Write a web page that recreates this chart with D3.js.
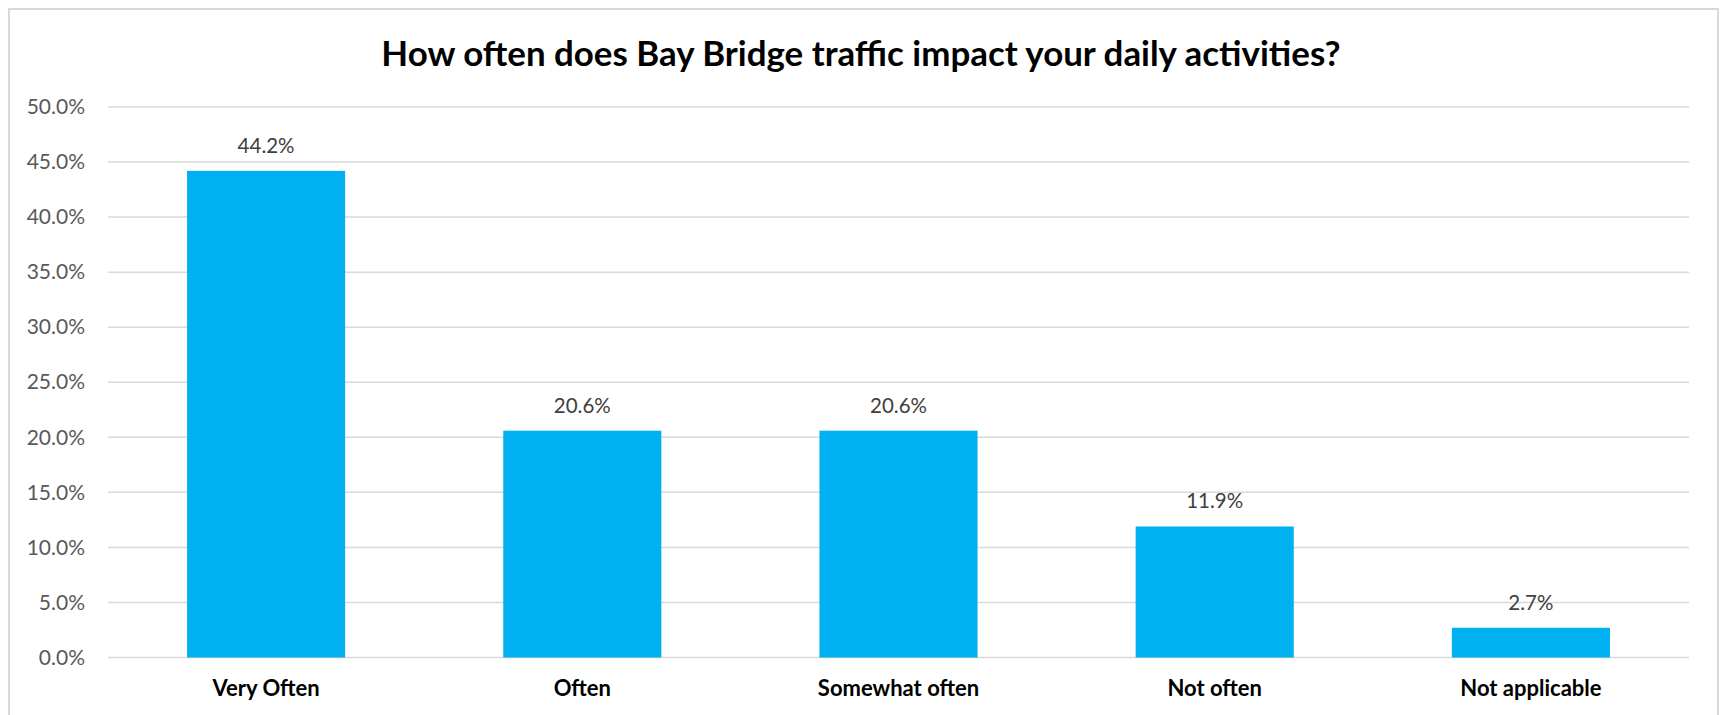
<!DOCTYPE html>
<html>
<head>
<meta charset="utf-8">
<script src="https://cdn.jsdelivr.net/npm/d3@7"></script>
<style>
  html, body { margin: 0; padding: 0; background: #fff; }
  svg { display: block; }
</style>
</head>
<body>
<svg id="chart" width="1720" height="715"></svg>
<script>
// Survey answers and their shares (percent)
const categories = ["Very Often", "Often", "Somewhat often", "Not often", "Not applicable"];
const shares = [44.2, 20.6, 20.6, 11.9, 2.7];
const yTicks = [0, 5, 10, 15, 20, 25, 30, 35, 40, 45, 50];
const chartTitle = "How often does Bay Bridge traffic impact your daily activities?";

const W = 1720, H = 715;
const margin = { left: 108, right: 31, top: 107, bottom: 57.5 };
const FONT = "Lato, 'Open Sans', sans-serif";

const svg = d3.select("#chart");

// outer frame
svg.append("path")
  .attr("d", `M9,${H + 2} V9 H1718 V${H + 2}`)
  .attr("fill", "none")
  .attr("stroke", "#d9d9d9")
  .attr("stroke-width", 2);

const x = d3.scaleBand()
  .domain(categories)
  .range([margin.left, W - margin.right])
  .paddingInner(0.5)
  .paddingOuter(0.25);

const y = d3.scaleLinear()
  .domain([0, 50])
  .range([H - margin.bottom, margin.top]);

// gridlines
svg.append("g")
  .selectAll("line")
  .data(yTicks)
  .join("line")
  .attr("x1", margin.left)
  .attr("x2", W - margin.right)
  .attr("y1", d => y(d))
  .attr("y2", d => y(d))
  .attr("stroke", "#d9d9d9")
  .attr("stroke-width", 1.5);

// y axis labels
const yAxis = d3.axisLeft(y)
  .tickValues(yTicks)
  .tickFormat(d => d3.format(".1f")(d) + "%")
  .tickSize(0)
  .tickPadding(23);
const yg = svg.append("g")
  .attr("transform", `translate(${margin.left},0)`)
  .call(yAxis);
yg.select(".domain").remove();
yg.selectAll("text")
  .attr("font-family", FONT)
  .attr("font-size", 21)
  .attr("fill", "#595959");

// bars
svg.append("g")
  .selectAll("rect")
  .data(shares)
  .join("rect")
  .attr("x", (d, i) => x(categories[i]))
  .attr("width", x.bandwidth())
  .attr("y", d => y(d))
  .attr("height", d => y(0) - y(d))
  .attr("fill", "#00b0f0");

// value labels
svg.append("g")
  .selectAll("text")
  .data(shares)
  .join("text")
  .attr("x", (d, i) => x(categories[i]) + x.bandwidth() / 2)
  .attr("y", d => y(d) - 18)
  .attr("text-anchor", "middle")
  .attr("font-family", FONT)
  .attr("font-size", 20.5)
  .attr("fill", "#404040")
  .text(d => d.toFixed(1) + "%");

// category labels
const xAxis = d3.axisBottom(x).tickSize(0).tickPadding(23);
const xg = svg.append("g")
  .attr("transform", `translate(0,${y(0)})`)
  .call(xAxis);
xg.select(".domain").remove();
xg.selectAll("text")
  .attr("font-family", FONT)
  .attr("font-size", 22)
  .attr("font-weight", "bold")
  .attr("fill", "#000");

// title
const title = svg.append("text")
  .attr("x", 861)
  .attr("y", 66)
  .attr("text-anchor", "middle")
  .attr("font-family", FONT)
  .attr("font-weight", "bold")
  .attr("font-size", 35)
  .attr("fill", "#000")
  .text(chartTitle);
// keep the title inside its span
const tw = title.node().getComputedTextLength();
if (tw > 960) title.attr("font-size", 35 * 960 / tw);
</script>
</body>
</html>
